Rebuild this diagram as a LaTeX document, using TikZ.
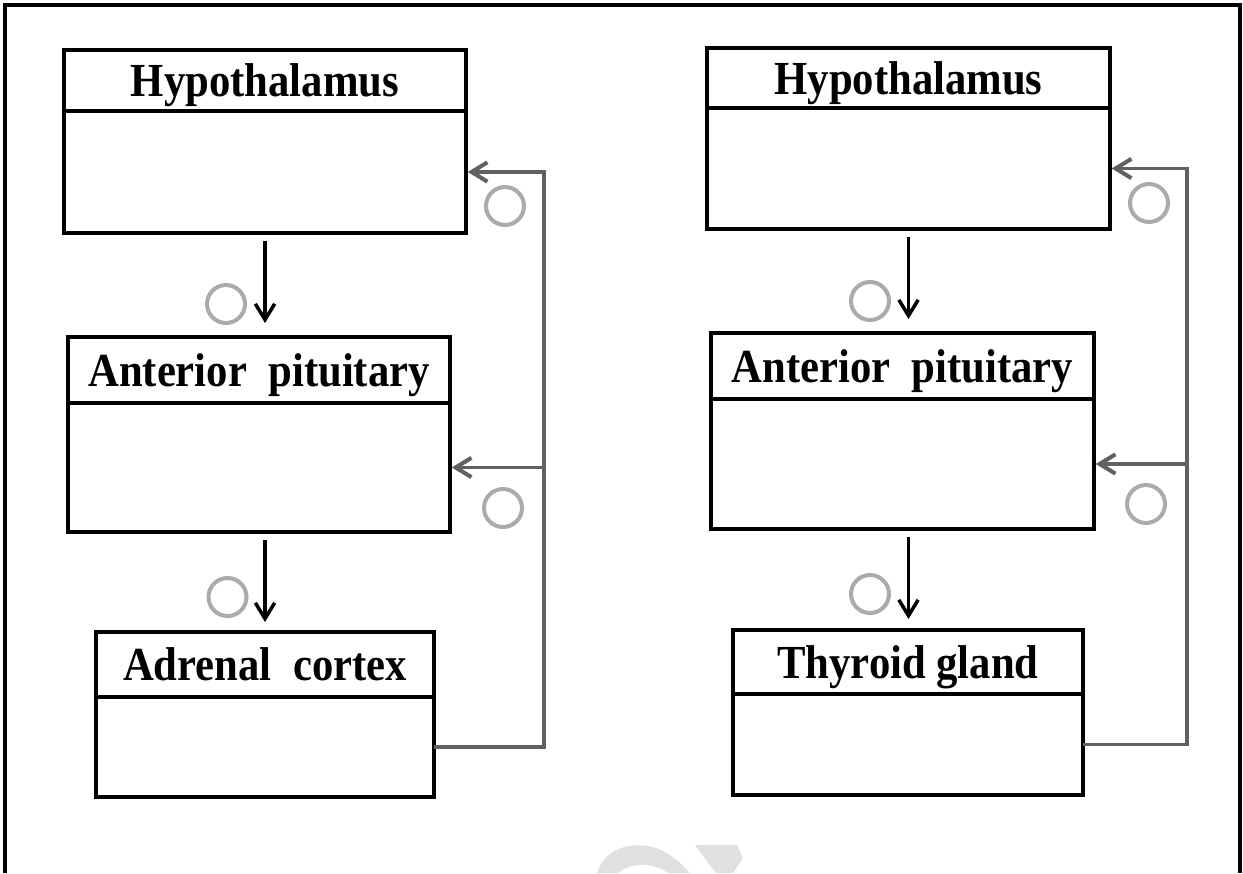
\documentclass[tikz,border=0pt]{standalone}
\usepackage{fontspec}
\setmainfont{Liberation Serif}
\usetikzlibrary{positioning, arrows.meta}

\tikzset{
  head/.style={draw, line width=1.8pt, outer sep=0pt, inner sep=0pt, text depth=0pt, font=\fontsize{27}{31}\selectfont\bfseries\addfontfeature{FakeStretch=0.9}},
  body/.style={draw, line width=1.8pt, outer sep=0pt, inner sep=0pt},
  sign/.style={circle, draw=black!33, line width=2.3pt, minimum size=0.76cm, inner sep=0pt},
  down/.style={-{Straight Barb[length=9pt,width=11pt,line width=2pt]}, line width=2pt},
  fb/.style={-{Straight Barb[length=9pt,width=11pt,line width=2.3pt]}, draw=black!62, line width=2.2pt, shorten >=1pt}
}

\begin{document}
\begin{tikzpicture}[x=0.02cm, y=-0.02cm]
            \useasboundingbox (0,0) rectangle (1243,873);
            % frame and watermark
            \draw[line width=1.8pt] (5,873) -- (5,5) -- (1240,5) -- (1240,873);
            \fill[black!12] (597,873) .. controls (605,850) and (625,843) .. (648,846) .. controls (665,849) and (678,860) .. (690,873) -- (668,873) .. controls (655,863) and (632,861) .. (618,873) -- cycle;
            \fill[black!12] (695,845) -- (737,845) -- (743,858) -- (733,873) -- (716,873) -- cycle;

            % left: adrenal axis
            \node[head, minimum width=8.04cm, minimum height=1.22cm] (hypLh) at (265, 80.5) {Hypothalamus};
            \node[body, minimum width=8.04cm, minimum height=2.44cm, below=0pt of hypLh] (hypLb) {};
            \node[head, minimum width=7.64cm, minimum height=1.32cm] (apLh) at (259, 370) {Anterior\ \ pituitary};
            \node[body, minimum width=7.64cm, minimum height=2.58cm, below=0pt of apLh] (apLb) {};
            \node[head, minimum width=6.76cm, minimum height=1.30cm] (adrLh) at (265, 664.5) {Adrenal\ \ cortex};
            \node[body, minimum width=6.76cm, minimum height=2.00cm, below=0pt of adrLh] (adrLb) {};

            % right: thyroid axis
            \node[head, minimum width=8.06cm, minimum height=1.20cm] (hypRh) at (908.5, 78) {Hypothalamus};
            \node[body, minimum width=8.06cm, minimum height=2.42cm, below=0pt of hypRh] (hypRb) {};
            \node[head, minimum width=7.66cm, minimum height=1.32cm] (apRh) at (902.5, 366) {Anterior\ \ pituitary};
            \node[body, minimum width=7.66cm, minimum height=2.60cm, below=0pt of apRh] (apRb) {};
            \node[head, minimum width=7.00cm, minimum height=1.28cm] (thyRh) at (908, 662) {Thyroid\ gland};
            \node[body, minimum width=7.00cm, minimum height=2.02cm, below=0pt of thyRh] (thyRb) {};

            % empty signs
            \node[sign] (sL1) at (226, 304) {};
            \node[sign] (sL2) at (227.5, 597) {};
            \node[sign] (sL3) at (505, 206) {};
            \node[sign] (sL4) at (503, 508) {};
            \node[sign] (sR1) at (870, 301) {};
            \node[sign] (sR2) at (870, 594) {};
            \node[sign] (sR3) at (1149, 203) {};
            \node[sign] (sR4) at (1146, 504) {};

            % stimulation
            \draw[down, shorten <=0.16cm, shorten >=0.28cm] (hypLb.south) -- (hypLb.south |- apLh.north);
            \draw[down, shorten <=0.16cm, shorten >=0.2cm] (hypLb.south |- apLb.south) -- (hypLb.south |- adrLh.north);
            \draw[down, shorten <=0.17cm, shorten >=0.28cm] (hypRb.south) -- (hypRb.south |- apRh.north);
            \draw[down, shorten <=0.16cm, shorten >=0.22cm] (hypRb.south |- apRb.south) -- (hypRb.south |- thyRh.north);

            % feedback
            \coordinate (fbL) at (544, 0);
            \coordinate (fbR) at (1187, 0);
            \draw[fb] (adrLb.east) -| (fbL |- hypLb.east) -- (hypLb.east);
            \draw[fb] (fbL |- apLb.east) -- (apLb.east);
            \draw[fb] (thyRb.east) -| (fbR |- hypRb.east) -- (hypRb.east);
            \draw[fb] (fbR |- apRb.east) -- (apRb.east);
        \end{tikzpicture}
\end{document}
